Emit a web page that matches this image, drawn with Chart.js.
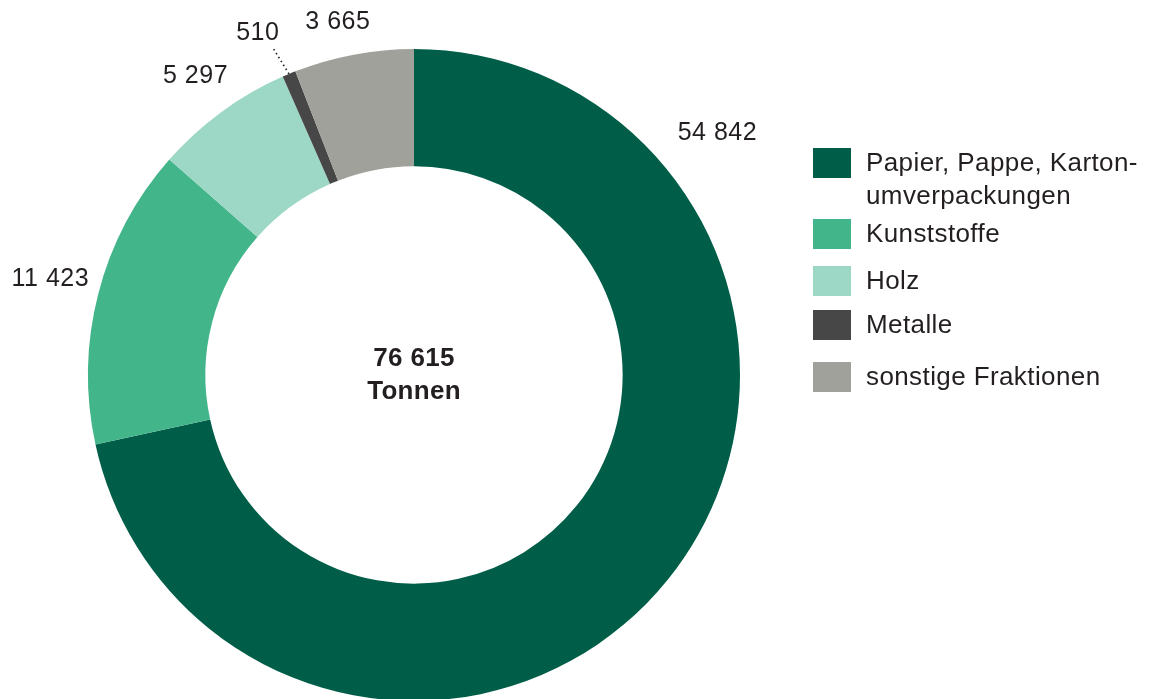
<!DOCTYPE html>
<html lang="de">
<head>
<meta charset="utf-8">
<script src="https://cdn.jsdelivr.net/npm/chart.js@4.4.0/dist/chart.umd.min.js"></script>
<style>
    html, body {
        margin: 0;
        padding: 0;
        width: 1149px;
        height: 699px;
        overflow: hidden;
        background: #fff;
        font-family: "Liberation Sans", Arial, sans-serif;
    }
    #wrap {
        position: relative;
        width: 1149px;
        height: 699px;
    }
    #donut {
        position: absolute;
        left: 0;
        top: 0;
    }
    #legend {
        position: absolute;
        left: 813px;
        top: 146px;
        margin: 0;
        padding: 0;
        list-style: none;
        color: #231f20;
        font-size: 26px;
        line-height: 33px;
        letter-spacing: 0.4px;
        white-space: nowrap;
    }
    #legend li {
        position: relative;
        padding-left: 53px;
    }
    #legend li:nth-child(2) { margin-top: 5px; }
    #legend li:nth-child(3) { margin-top: 14px; }
    #legend li:nth-child(4) { margin-top: 11px; }
    #legend li:nth-child(5) { margin-top: 19px; }
    #legend .indicator {
        position: absolute;
        left: 0;
        top: 2px;
        width: 38px;
        height: 30px;
    }
</style>
</head>
<body>
<div id="wrap">
    <canvas id="donut" width="1149" height="720"></canvas>
    <ul id="legend"></ul>
</div>
<script>
const labels = ["Papier, Pappe, Karton-\numverpackungen", "Kunststoffe", "Holz", "Metalle", "sonstige Fraktionen"];
// printed amounts (tonnes)
const printedValues = [54842, 11423, 5297, 510, 3665];
// slice sizes as drawn: the ring closes on the total of 76 615, so the grey slice takes the rest
const sliceValues = [54842, 11423, 5297, 510, 4543];
const total = 76615;
const unit = "Tonnen";

const colors = ["#005e48", "#43b58a", "#9dd7c5", "#474747", "#a1a19b"];

const fmt = v => String(v).replace(/\B(?=(\d{3})+(?!\d))/g, " ");

// value labels around the ring (angle shift in degrees, distance from center)
const labelPlacement = [
    { shift: -77.4, dist: 388 },
    { shift: 0.2, dist: 376 },
    { shift: 0, dist: 370 },
    { shift: -2, dist: 376, leader: true },
    { shift: -1.5, dist: 361 }
];

const ringLabelsPlugin = {
    id: 'ringLabels',
    afterDraw(chart) {
        const { ctx } = chart;
        const arcs = chart.getDatasetMeta(0).data;
        ctx.save();
        ctx.font = '25px "Liberation Sans", Arial, sans-serif';
        ctx.letterSpacing = '0.5px';
        ctx.fillStyle = '#231f20';
        ctx.textAlign = 'center';
        ctx.textBaseline = 'middle';
        arcs.forEach((arc, i) => {
            const p = labelPlacement[i];
            const mid = (arc.startAngle + arc.endAngle) / 2;
            const a = mid + p.shift * Math.PI / 180;
            const x = arc.x + Math.cos(a) * p.dist;
            const y = arc.y + Math.sin(a) * p.dist;
            ctx.fillText(fmt(printedValues[i]), x, y);
            if (p.leader) {
                const r0 = arc.outerRadius;
                const r1 = arc.outerRadius + 31;
                const a1 = mid - 0.8 * Math.PI / 180;
                ctx.strokeStyle = '#231f20';
                ctx.lineWidth = 1.6;
                ctx.setLineDash([1.6, 3]);
                ctx.beginPath();
                ctx.moveTo(arc.x + Math.cos(mid) * r0, arc.y + Math.sin(mid) * r0);
                ctx.lineTo(arc.x + Math.cos(a1) * r1, arc.y + Math.sin(a1) * r1);
                ctx.stroke();
                ctx.setLineDash([]);
            }
        });

        // total in the middle
        const c = arcs[0];
        ctx.font = 'bold 26px "Liberation Sans", Arial, sans-serif';
        ctx.letterSpacing = '0.3px';
        ctx.fillText(fmt(total), c.x, c.y - 16);
        ctx.fillText(unit, c.x, c.y + 17);
        ctx.restore();
    }
};

new Chart(document.getElementById("donut"), {
    type: "doughnut",
    data: {
        labels: labels,
        datasets: [{
            data: sliceValues,
            backgroundColor: colors,
            borderWidth: 0
        }]
    },
    options: {
        responsive: false,
        animation: false,
        cutout: '64%',
        layout: {
            padding: { left: 88, right: 409, top: 49, bottom: 19 }
        },
        plugins: {
            legend: { display: false },
            tooltip: { enabled: false }
        }
    },
    plugins: [ringLabelsPlugin]
});

const ul = document.getElementById("legend");
labels.forEach((l, i) => {
    const li = document.createElement("li");
    const indicator = document.createElement("span");
    indicator.className = "indicator";
    indicator.style.backgroundColor = colors[i];
    li.appendChild(indicator);
    l.split("\n").forEach((part, j) => {
        if (j > 0) li.appendChild(document.createElement("br"));
        li.appendChild(document.createTextNode(part));
    });
    ul.appendChild(li);
});
</script>
</body>
</html>
